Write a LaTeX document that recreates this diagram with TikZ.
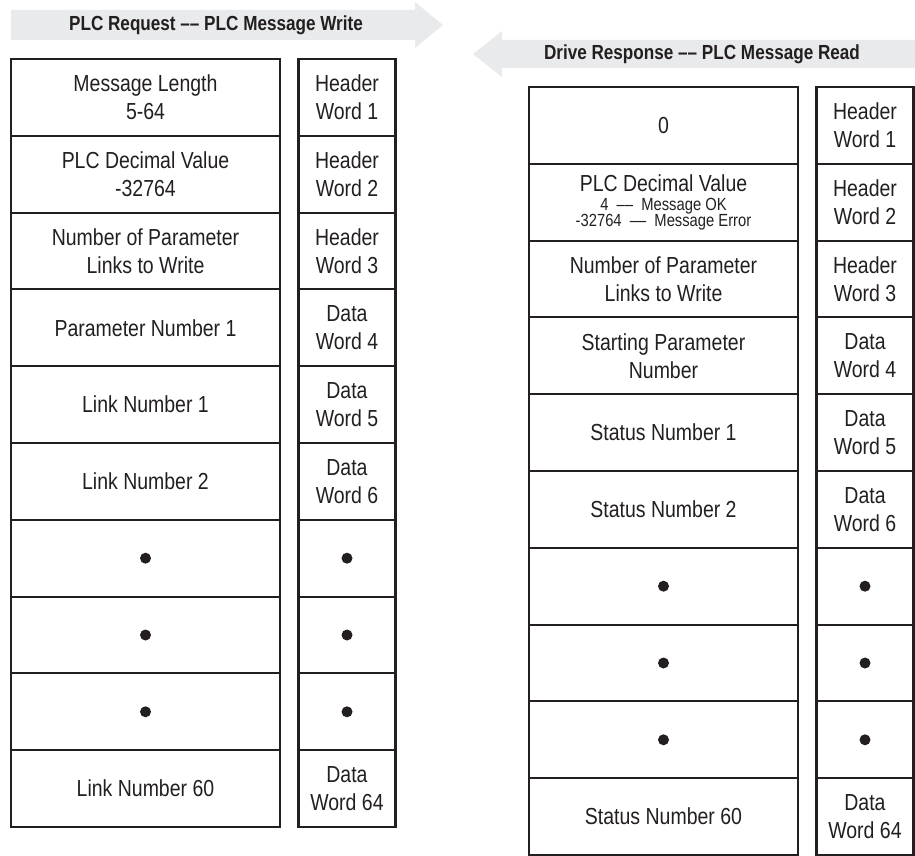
\documentclass[tikz,border=0pt]{standalone}
\usepackage{fontspec}
\setmainfont{Liberation Sans}[FakeStretch=0.84]
\usetikzlibrary{positioning}
\definecolor{Ink}{HTML}{231F20}
\definecolor{Banner}{HTML}{E9EAEC}
\newcommand{\statusfont}{\fontsize{10}{10}\selectfont}

\begin{document}
\begin{tikzpicture}[
    font=\fontsize{13.2}{16}\selectfont,
    field/.style={
        draw=Ink,
        line width=1.2pt,
        outer sep=0pt,
        inner sep=0pt,
        minimum width=53.8mm,
        minimum height=15.36mm,
        align=center,
        text=Ink
    },
    wordbox/.style={field, minimum width=19.4mm},
    dot/.style={circle, fill=Ink, inner sep=0pt, minimum size=2.2mm},
    banner/.style={fill=Banner, draw=none},
    title/.style={font=\fontsize{11.6}{14}\selectfont\bfseries, text=Ink}
]

\useasboundingbox (0,0) rectangle (18.3,-17.12);

% Direction banners
\fill[banner] (0.22,-0.2) -- (8.3,-0.2) -- (8.3,-0.04) -- (8.86,-0.5)
    -- (8.3,-0.96) -- (8.3,-0.8) -- (0.22,-0.8) -- cycle;
\node[title] (reqtitle) at (4.32,-0.5) {PLC Request –– PLC Message Write};

\fill[banner] (18.3,-0.8) -- (10.04,-0.8) -- (10.04,-0.62) -- (9.46,-1.08)
    -- (10.04,-1.54) -- (10.04,-1.36) -- (18.3,-1.36) -- cycle;
\node[title] (rsptitle) at (14.04,-1.08) {Drive Response –– PLC Message Read};

% PLC request block
\node[field] (req1) at (2.91,-1.948) {Message Length\\5-64};
\node[field, below=0pt of req1] (req2) {PLC Decimal Value\\-32764};
\node[field, below=0pt of req2] (req3) {Number of Parameter\\Links to Write};
\node[field, below=0pt of req3] (req4) {Parameter Number 1};
\node[field, below=0pt of req4] (req5) {Link Number 1};
\node[field, below=0pt of req5] (req6) {Link Number 2};
\node[field, below=0pt of req6] (req7) {};
\node[field, below=0pt of req7] (req8) {};
\node[field, below=0pt of req8] (req9) {};
\node[field, below=0pt of req9] (req10) {Link Number 60};

\node[wordbox] (reqw1) at (6.94,-1.948) {Header\\Word 1};
\node[wordbox, below=0pt of reqw1] (reqw2) {Header\\Word 2};
\node[wordbox, below=0pt of reqw2] (reqw3) {Header\\Word 3};
\node[wordbox, below=0pt of reqw3] (reqw4) {Data\\Word 4};
\node[wordbox, below=0pt of reqw4] (reqw5) {Data\\Word 5};
\node[wordbox, below=0pt of reqw5] (reqw6) {Data\\Word 6};
\node[wordbox, below=0pt of reqw6] (reqw7) {};
\node[wordbox, below=0pt of reqw7] (reqw8) {};
\node[wordbox, below=0pt of reqw8] (reqw9) {};
\node[wordbox, below=0pt of reqw9] (reqw10) {Data\\Word 64};

% Drive response block
\node[field] (rsp1) at (13.27,-2.508) {0};
\node[field, below=0pt of rsp1] (rsp2)
    {PLC Decimal Value\\[-5pt]\statusfont 4~~––~~Message OK\\[-7pt]\statusfont -32764~~––~~Message Error};
\node[field, below=0pt of rsp2] (rsp3) {Number of Parameter\\Links to Write};
\node[field, below=0pt of rsp3] (rsp4) {Starting Parameter\\Number};
\node[field, below=0pt of rsp4] (rsp5) {Status Number 1};
\node[field, below=0pt of rsp5] (rsp6) {Status Number 2};
\node[field, below=0pt of rsp6] (rsp7) {};
\node[field, below=0pt of rsp7] (rsp8) {};
\node[field, below=0pt of rsp8] (rsp9) {};
\node[field, below=0pt of rsp9] (rsp10) {Status Number 60};

\node[wordbox] (rspw1) at (17.30,-2.508) {Header\\Word 1};
\node[wordbox, below=0pt of rspw1] (rspw2) {Header\\Word 2};
\node[wordbox, below=0pt of rspw2] (rspw3) {Header\\Word 3};
\node[wordbox, below=0pt of rspw3] (rspw4) {Data\\Word 4};
\node[wordbox, below=0pt of rspw4] (rspw5) {Data\\Word 5};
\node[wordbox, below=0pt of rspw5] (rspw6) {Data\\Word 6};
\node[wordbox, below=0pt of rspw6] (rspw7) {};
\node[wordbox, below=0pt of rspw7] (rspw8) {};
\node[wordbox, below=0pt of rspw8] (rspw9) {};
\node[wordbox, below=0pt of rspw9] (rspw10) {Data\\Word 64};

% Continuation dots
\node[dot] (reqd7) at (req7) {};
\node[dot] (reqd8) at (req8) {};
\node[dot] (reqd9) at (req9) {};
\node[dot] (reqwd7) at (reqw7) {};
\node[dot] (reqwd8) at (reqw8) {};
\node[dot] (reqwd9) at (reqw9) {};
\node[dot] (rspd7) at (rsp7) {};
\node[dot] (rspd8) at (rsp8) {};
\node[dot] (rspd9) at (rsp9) {};
\node[dot] (rspwd7) at (rspw7) {};
\node[dot] (rspwd8) at (rspw8) {};
\node[dot] (rspwd9) at (rspw9) {};

\end{tikzpicture}
\end{document}
